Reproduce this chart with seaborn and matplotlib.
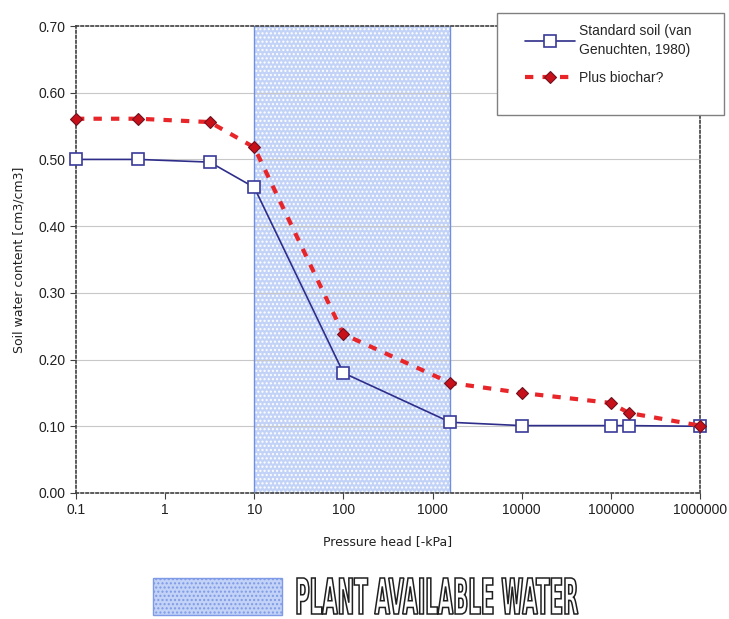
import numpy as np
import pandas as pd
import matplotlib
matplotlib.use('Agg')
import matplotlib.pyplot as plt
from matplotlib.patches import Rectangle, PathPatch
from matplotlib.textpath import TextPath
from matplotlib.font_manager import FontProperties
from matplotlib.transforms import Affine2D
from matplotlib.ticker import FixedLocator, FixedFormatter, NullLocator
import seaborn as sns

# presion en kPa (pF - 1)
presion = [0.1, 0.5, 3.16, 10, 100, 1585, 10000, 100000, 158489, 1000000]
suelo_std = [0.500, 0.500, 0.496, 0.458, 0.180, 0.106, 0.101, 0.101, 0.101, 0.100]
biochar = [0.561, 0.561, 0.556, 0.518, 0.238, 0.165, 0.150, 0.135, 0.120, 0.101]
zona_agua = [10, 1585]
x_ticks = [0.1, 1, 10, 100, 1000, 10000, 100000, 1000000]
x_labels = ['0.1', '1', '10', '100', '1000', '10000', '100000', '1000000']
y_ticks = [0.0, 0.1, 0.2, 0.3, 0.4, 0.5, 0.6, 0.7]

sns.set_style('white')
plt.rcParams['font.family'] = ['Liberation Sans', 'DejaVu Sans']

W, H = 729, 619
fig = plt.figure(figsize=(W/100, H/100), dpi=100)
ax = fig.add_axes([76/W, 1-493/H, (700-76)/W, (493-26)/H])

# zona de agua disponible
ax.axvspan(zona_agua[0], zona_agua[1], facecolor='#c3d3f7', edgecolor='white',
           hatch='....', lw=0, zorder=1)
ax.axvline(zona_agua[0], color='#6f8fe0', lw=1, zorder=1.5)
ax.axvline(zona_agua[1], color='#6f8fe0', lw=1, zorder=1.5)

for yv in y_ticks[1:-1]:
    ax.axhline(yv, color='#c8c8c8', lw=0.8, zorder=1.2)

bd = pd.DataFrame({'presion': presion, 'std': suelo_std, 'bio': biochar})
sns.lineplot(data=bd, x='presion', y='std', ax=ax, color='#2e2e8a', lw=1.2,
             marker='s', markersize=8, markerfacecolor='white',
             markeredgecolor='#3a3a9a', markeredgewidth=1.2,
             label='Standard soil (van\nGenuchten, 1980)', zorder=3, clip_on=False)
sns.lineplot(data=bd, x='presion', y='bio', ax=ax, color='#e8262a', lw=3,
             linestyle=(0, (2, 2.2)), marker='D', markersize=6.5,
             markerfacecolor='#c8101a', markeredgecolor='#701020',
             markeredgewidth=0.8, label='Plus biochar?', zorder=4, clip_on=False)

ax.set_xscale('log')
ax.set_xlim(0.1, 1000000)
ax.set_ylim(0, 0.7)
ax.xaxis.set_major_locator(FixedLocator(x_ticks))
ax.xaxis.set_major_formatter(FixedFormatter(x_labels))
ax.xaxis.set_minor_locator(NullLocator())
ax.set_yticks(y_ticks)
ax.set_yticklabels(['%.2f' % v for v in y_ticks])
ax.tick_params(axis='both', which='major', length=4, width=0.8, color='#404040',
               labelsize=10, labelcolor='#202020', direction='out',
               bottom=True, left=True)

for s in ax.spines.values():
    s.set_linestyle((0, (1.5, 1.5)))
    s.set_color('#404040')
    s.set_linewidth(1.2)

ax.set_xlabel('Pressure head [-kPa]', fontsize=9, family='DejaVu Sans',
              color='#202020', labelpad=13)
ax.set_ylabel('Soil water content [cm3/cm3]', fontsize=9, family='DejaVu Sans',
              color='#202020', labelpad=9)

# caja de la leyenda
fig.patches.append(Rectangle((497/W, 1-115/H), (724-497)/W, (115-13)/H,
                             transform=fig.transFigure, facecolor='white',
                             edgecolor='#808080', lw=1, zorder=2))
ax.legend_.remove()
h, l = ax.get_legend_handles_labels()
leg = fig.legend(h, l, loc='upper left', bbox_to_anchor=(522/W, 1-21/H),
                 fontsize=10, frameon=False, borderpad=0.2, labelspacing=1.05,
                 handlelength=3.6, handletextpad=0.3, borderaxespad=0)
for t in leg.get_texts():
    t.set_linespacing(1.45)
leg.set_zorder(5)

# leyenda de abajo
rect = Rectangle((153/W, 1-615/H), (282-153)/W, (615-578)/H,
                 transform=fig.transFigure, facecolor='#c3d3f7', edgecolor='#7f9ae6',
                 hatch='....', lw=1)
fig.patches.append(rect)

tp = TextPath((0, 0), 'PLANT AVAILABLE WATER', size=1,
              prop=FontProperties(family='DejaVu Sans', weight='bold'))
ext = tp.get_extents()
x0, x1, y0, y1 = 297, 578, H - 614, H - 578
tr = (Affine2D().translate(-ext.x0, -ext.y0)
      .scale((x1 - x0) / ext.width, (y1 - y0) / ext.height)
      .translate(x0, y0))
fig.patches.append(PathPatch(tr.transform_path(tp), transform=None,
                             facecolor='white', edgecolor='#202020', lw=1.1))

fig.savefig('out.png', dpi=100)
